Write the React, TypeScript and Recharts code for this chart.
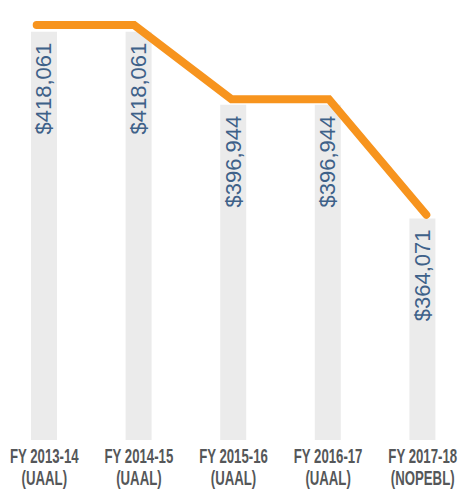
import { Bar, ComposedChart, LabelList, Line, XAxis, YAxis } from "recharts";

const years = ["FY 2013-14", "FY 2014-15", "FY 2015-16", "FY 2016-17", "FY 2017-18"];
const kinds = ["(UAAL)", "(UAAL)", "(UAAL)", "(UAAL)", "(NOPEBL)"];
const liability = [418061, 418061, 396944, 396944, 364071];

const data = years.map((year, i) => ({ year, kind: kinds[i], value: liability[i] }));

const dollars = (v: number) => `$${v.toLocaleString("en-US")}`;

function BarValue({ x, y, width, value }: { x?: number; y?: number; width?: number; value?: number }) {
  if (x == null || y == null || width == null || value == null) return null;
  const cx = x + width / 2;
  const top = y + 11;
  return (
    <text
      x={cx}
      y={top}
      transform={`rotate(-90 ${cx} ${top})`}
      textAnchor="end"
      dominantBaseline="central"
      fontFamily="'Liberation Sans', Arial, sans-serif"
      fontSize={22}
      fill="#3e6189"
    >
      {dollars(value)}
    </text>
  );
}

// two-line category label, squeezed horizontally to mimic a condensed face
function YearTick({ x, y, payload, index }: { x?: number; y?: number; payload?: { value: string }; index?: number }) {
  if (x == null || y == null || !payload) return null;
  const kind = kinds[index ?? 0];
  return (
    <g transform={`translate(${x} ${y}) scale(0.66 1)`}>
      <text
        textAnchor="middle"
        fontFamily="'Liberation Sans', Arial, sans-serif"
        fontWeight={700}
        fontSize={20}
        fill="#555759"
      >
        <tspan x={0} y={23}>{payload.value}</tspan>
        <tspan x={0} y={45}>{kind}</tspan>
      </text>
    </g>
  );
}

export default function App() {
  return (
    <div style={{ position: "absolute", left: 0, top: 0, width: 461, height: 489, overflow: "hidden", background: "#fff" }}>
      <div style={{ position: "absolute", left: -3, top: 0 }}>
        <ComposedChart width={473} height={489} data={data} margin={{ top: 25, right: 0, bottom: 0, left: 0 }}>
          <XAxis
            dataKey="year"
            axisLine={false}
            tickLine={false}
            tickSize={0}
            tickMargin={0}
            height={49}
            interval={0}
            tick={<YearTick />}
          />
          {/* the orange trend line is drawn a little wider than the bars */}
          <XAxis xAxisId="line" dataKey="year" hide padding={{ left: -9, right: -5 }} />
          <YAxis yAxisId="bar" hide domain={[300000, 420000]} />
          <YAxis yAxisId="line" hide domain={[300000, 415000]} />
          <Bar yAxisId="bar" dataKey="value" fill="#ebebeb" barSize={26} isAnimationActive={false}>
            <LabelList dataKey="value" content={<BarValue />} />
          </Bar>
          <Line
            xAxisId="line"
            yAxisId="line"
            dataKey="value"
            type="linear"
            stroke="#f7941e"
            strokeWidth={8}
            strokeLinecap="round"
            strokeLinejoin="miter"
            dot={false}
            activeDot={false}
            isAnimationActive={false}
          />
        </ComposedChart>
      </div>
    </div>
  );
}
